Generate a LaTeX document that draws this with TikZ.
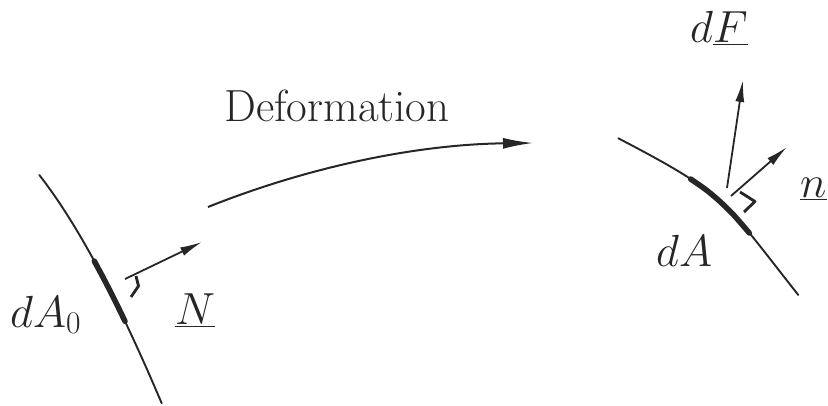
\RequirePackage{fix-cm}
\documentclass[tikz,border=0pt]{standalone}
\usetikzlibrary{arrows.meta}
\definecolor{ink}{RGB}{38,38,38}
\begin{document}
\begin{tikzpicture}[x=1pt,y=-1pt,
  lab/.style={inner sep=0pt, text=ink, font=\fontsize{45}{54}\selectfont},
  surf/.style={line width=1.9pt, draw=ink, line cap=round},
  patch/.style={line width=5.5pt, draw=ink, line cap=round},
  vec/.style={line width=1.8pt, draw=ink, -{Latex[length=22pt,width=9pt]}},
  bigvec/.style={line width=2pt, draw=ink, -{Latex[length=30pt,width=11pt]}},
  rmark/.style={line width=2.8pt, draw=ink, line join=round}]
\useasboundingbox (0,0) rectangle (828,406);
% labels
\node[lab, anchor=base west] (def) at (224,122) {Deformation};
\node[lab, anchor=base west] (dA0) at (10,327) {$dA_0$};
\node[lab, anchor=base west] (N) at (175,325) {$\underline{N}$};
\node[lab, anchor=base west] (dA) at (656,267) {$dA$};
\node[lab, anchor=base west] (dF) at (690,43) {$d\underline{F}$};
\node[lab, anchor=base west] (n) at (800,198) {$\underline{n}$};
% left surface
\coordinate (L0) at (39.3,175);
\coordinate (L1) at (161.7,403.3);
\draw[surf] (L0) .. controls (87.5,236.7) and (130.8,330.5) .. (L1);
\draw[patch] plot[smooth] coordinates {(94.3,261.1) (102,275.4) (109.5,289.8) (117.4,305.6) (125,321.3)};
% left normal
\coordinate (Nb) at (125,279);
\coordinate (Nt) at (202,242);
\draw[vec] (Nb) -- (Nt);
\draw[rmark] (136,276) -- (138.5,286) -- (131,297);
% right surface
\coordinate (R0) at (618.3,138.3);
\coordinate (R1) at (798.3,295);
\draw[surf] (R0) .. controls (726.5,194.7) and (723,199.5) .. (R1);
\draw[patch] plot[smooth] coordinates {(690.6,179) (706.7,190.3) (720.5,202) (733.5,214.8) (749.3,233)};
% right vectors
\coordinate (Fb) at (727,188);
\coordinate (Ft) at (743,80);
\coordinate (nb) at (731,196);
\coordinate (nt) at (787,147);
\draw[vec] (Fb) -- (Ft);
\draw[vec] (nb) -- (nt);
\draw[rmark] (740,192) -- (755,201.5) -- (744,212);
% deformation arrow
\coordinate (D0) at (208,207);
\coordinate (D1) at (533,143);
\draw[bigvec] (D0) .. controls (311.3,165.7) and (419.6,144.3) .. (D1);
\end{tikzpicture}
\end{document}
